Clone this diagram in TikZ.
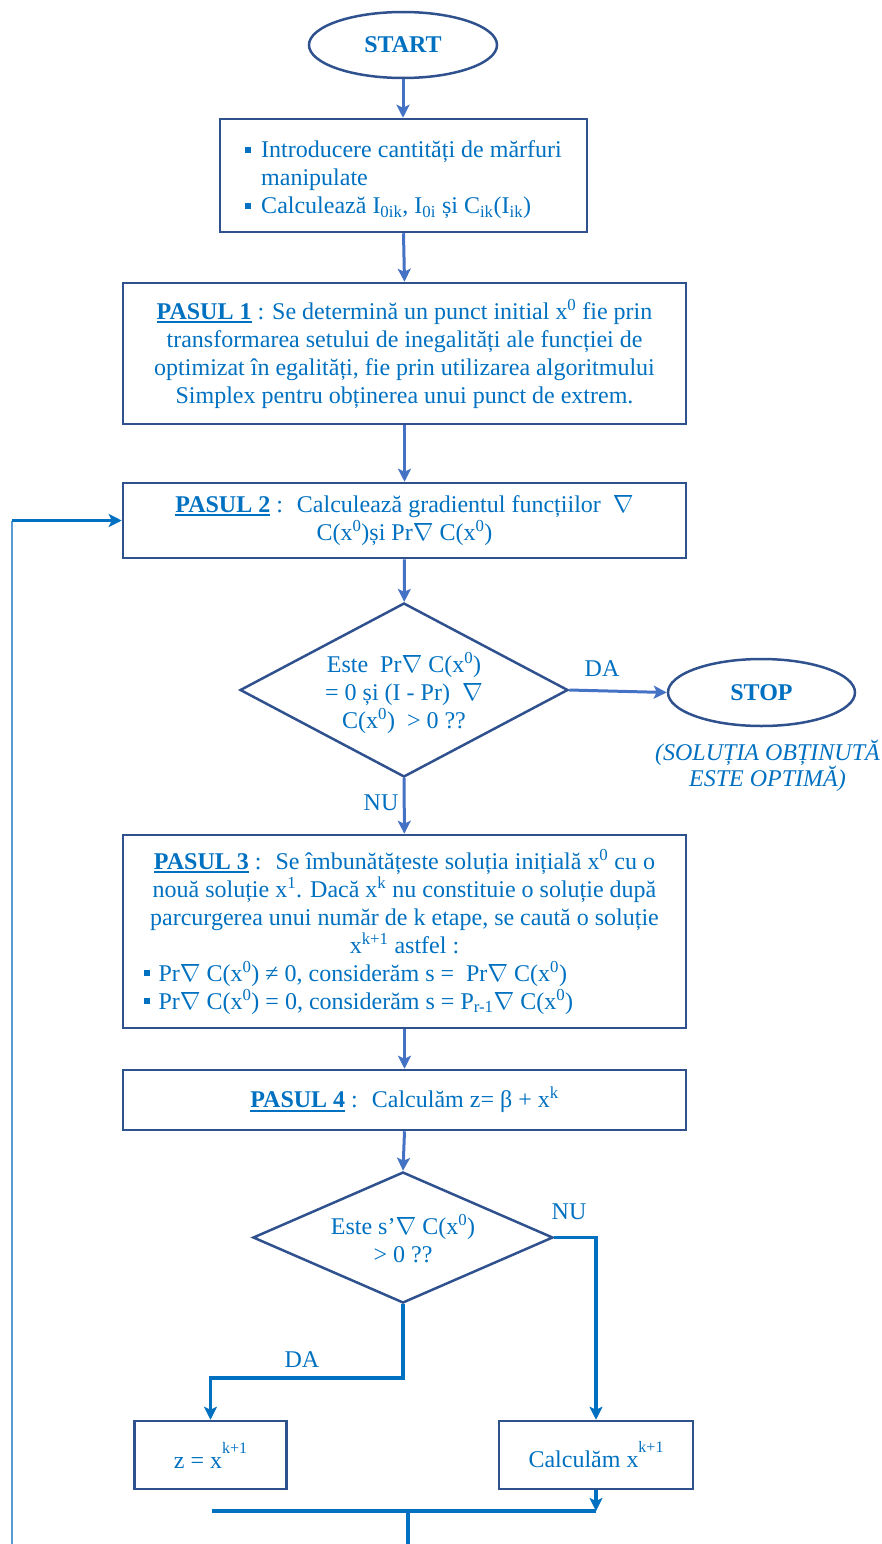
\documentclass[tikz,border=0pt]{standalone}
\usepackage{fontspec}
\setmainfont{Liberation Serif}
\usetikzlibrary{shapes.geometric,arrows.meta}

\definecolor{txt}{HTML}{0070C0}
\definecolor{edge}{HTML}{2F528F}
\definecolor{flow}{HTML}{4472C4}
\definecolor{wire}{HTML}{0070C0}
\definecolor{pale}{HTML}{5B9BD5}

\newcommand\nab{\ensuremath{\nabla}}
\newcommand\blt{\rule[5pt]{6pt}{6pt}}
\newcommand\sy[1]{\textsuperscript{#1}}
\newcommand\sbt[1]{\textsubscript{#1}}
\newcommand\hisup[1]{\raisebox{15pt}{\fontsize{16}{16}\selectfont #1}}
\newsavebox\ulbox
\newcommand\ulb[1]{\sbox\ulbox{\bfseries #1}\rlap{\rule[-4pt]{\wd\ulbox}{2pt}}\usebox\ulbox}
\newcommand\midline[1]{\makebox[540pt][c]{#1}}

\begin{document}
\begin{tikzpicture}[x=1pt, y=-1pt,
  every node/.style={text=txt, font=\fontsize{24}{28}\selectfont},
  box/.style={draw=edge, line width=2.5pt, rectangle, inner sep=0pt},
  term/.style={draw=edge, line width=2.5pt, ellipse, inner sep=0pt},
  dia/.style={draw=edge, line width=2.5pt, diamond, inner sep=0pt},
  arr/.style={draw=flow, line width=3pt, -{Stealth[length=13pt, width=13pt, inset=3pt]}},
  wirearr/.style={draw=wire, line width=3.5pt, -{Stealth[length=13pt, width=13pt, inset=3pt]}},
  wireline/.style={draw=wire, line width=3.5pt},
  tag/.style={inner sep=0pt}]

\useasboundingbox (0,0) rectangle (882,1544);

% terminals and process boxes
\node[term, minimum width=188, minimum height=66] (start) at (403,45) {\bfseries START};

\node[box, minimum width=367, minimum height=113, align=left] (b1) at (403.5,175.5)
  {\rule{0pt}{26pt}\blt\hspace{10pt}Introducere cantități de mărfuri\\
   \hspace*{16pt}manipulate\\
   \blt\hspace{10pt}Calculează I\sbt{0ik}, I\sbt{0i} și C\sbt{ik}(I\sbt{ik})};

\node[box, minimum width=563, minimum height=141, align=center] (p1) at (404.5,353.5)
  {\ulb{PASUL 1} : Se determină un punct initial x\sy{0} fie prin\\
   transformarea setului de inegalități ale funcției de\\
   optimizat în egalități, fie prin utilizarea algoritmului\\
   Simplex pentru obținerea unui punct de extrem.};

\node[box, minimum width=563, minimum height=75, align=center] (p2) at (404.5,520.5)
  {\ulb{PASUL 2} :~ Calculează gradientul funcțiilor ~\nab\\
   C(x\sy{0})și Pr\nab\ C(x\sy{0})};

\node[dia, minimum width=328, minimum height=174] (d1) at (404,690) {};
\node[align=center] (d1t) at (404,692.5)
  {Este~ Pr\nab\ C(x\sy{0})\\
   = 0 și (I - Pr)~ \nab\\
   C(x\sy{0})~ > 0 ??};

\node[term, minimum width=187, minimum height=67] (stop) at (761.5,692.5) {\bfseries STOP};
\node[align=center, font=\fontsize{24}{26}\selectfont\itshape] (note) at (767.5,766)
  {(SOLUȚIA OBȚINUTĂ\\ESTE OPTIMĂ)};

\node[box, minimum width=563, minimum height=193, align=left] (p3) at (404.5,931.5)
  {\midline{\ulb{PASUL 3} :~ Se îmbunătățeste soluția inițială x\sy{0} cu o}\\
   \midline{nouă soluție x\sy{1}. Dacă x\sy{k} nu constituie o soluție după}\\
   \midline{parcurgerea unui număr de k etape, se caută o soluție}\\
   \midline{x\sy{k+1} astfel :}\\
   \hspace*{9.5pt}\blt\hspace{8.5pt}Pr\nab\ C(x\sy{0}) ≠ 0, considerăm s = ~Pr\nab\ C(x\sy{0})\\
   \hspace*{9.5pt}\blt\hspace{8.5pt}Pr\nab\ C(x\sy{0}) = 0, considerăm s = P\sbt{r-1}\nab\ C(x\sy{0})};

\node[box, minimum width=563, minimum height=60] (p4) at (404.5,1100)
  {\ulb{PASUL 4} :~ Calculăm z= β + x\sy{k}};

\node[dia, minimum width=300, minimum height=131] (d2) at (403,1237.5) {};
\node[align=center] (d2t) at (403,1239)
  {Este s’\nab\ C(x\sy{0})\\> 0 ??};

\node[box, minimum width=152, minimum height=68] (zb) at (210.5,1455) {z = x\hisup{k+1}};
\node[box, minimum width=194, minimum height=68] (cx) at (596,1455) {Calculăm x\hisup{k+1}};

% branch labels
\node[tag] (da1) at (602,669) {DA};
\node[tag] (nu1) at (381,803) {NU};
\node[tag] (nu2) at (569,1212) {NU};
\node[tag] (da2) at (302,1360) {DA};

% main flow
\draw[arr] (start.south) -- (start.south |- b1.north);
\draw[arr] (b1.south) -- (p1.north);
\draw[arr] (p1) -- (p2);
\draw[arr] (p2) -- (d1);
\draw[arr] (d1.east) -- (stop.west);
\draw[arr] (d1) -- (p3);
\draw[arr] (p3) -- (p4);
\draw[arr] (p4.south) -- (d2.north);

% second decision branches
\coordinate (dk) at (403,1378);
\draw[wirearr] (d2.south) -- (dk) -| (zb.north);
\draw[wirearr] (d2.east) -- (d2.east -| cx.north) -- (cx.north);

% merge bar and return loop
\coordinate (ml) at (212,1511);
\coordinate (mr) at (596,1511);
\coordinate (mj) at (408,1511);
\coordinate (mb) at (408,1544);
\draw[wirearr] (cx.south) -- (mr);
\draw[wireline] (ml) -- (mr);
\draw[wireline] (mj) -- (mb);

\coordinate (lb) at (12,1544);
\coordinate (lt) at (12,520.5);
\draw[draw=pale, line width=2.5pt] (lb) -- (lt);
\draw[draw=wire, line width=2.5pt, -{Stealth[length=13pt, width=13pt, inset=3pt]}] (lt) -- (p2.west);
\end{tikzpicture}
\end{document}
